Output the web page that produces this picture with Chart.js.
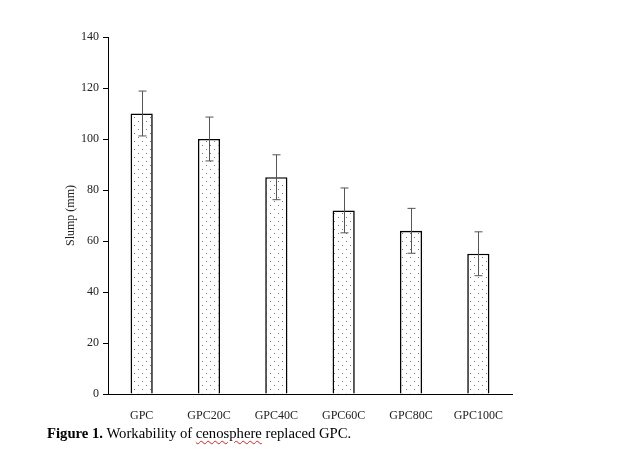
<!DOCTYPE html>
<html>
<head>
<meta charset="utf-8">
<script src="https://cdn.jsdelivr.net/npm/chart.js@4"></script>
<style>
  html, body { margin: 0; padding: 0; background: #fff; }
  #wrap { position: relative; width: 626px; height: 449px; }
  #chart { position: absolute; left: 0; top: 0; }
  #caption {
    position: absolute; left: 47px; top: 425px;
    font-family: "Liberation Serif", "Times New Roman", serif;
    font-size: 14.7px; color: #000; white-space: nowrap;
  }
  .sp { text-decoration: underline wavy #d22; text-decoration-thickness: 1px; text-underline-offset: 2px; }
</style>
</head>
<body>
<div id="wrap">
  <canvas id="chart" width="626" height="449"></canvas>
  <div id="caption"><b>Figure 1.</b> Workability of <span class="sp">cenosphere</span> replaced GPC.</div>
</div>
<script>
// Data
var mixes = ['GPC', 'GPC20C', 'GPC40C', 'GPC60C', 'GPC80C', 'GPC100C'];
var slump = [110, 100, 85, 72, 64, 55];
var slumpErr = [8.8, 8.6, 8.8, 8.8, 8.8, 8.6];

// Dotted fill pattern for the bars
function dotPattern() {
    var c = document.createElement('canvas');
    c.width = 8; c.height = 8;
    var g = c.getContext('2d');
    g.fillStyle = '#fff';
    g.fillRect(0, 0, 8, 8);
    g.fillStyle = '#777';
    g.fillRect(2, 1, 1, 1);
    g.fillRect(6, 5, 1, 1);
    return g.createPattern(c, 'repeat');
}

// Draw error bars from the y scale
var errorBars = {
    id: 'errorBars',
    afterDatasetsDraw: function(chart) {
        var ctx = chart.ctx;
        var y = chart.scales.y;
        var meta = chart.getDatasetMeta(0);
        ctx.save();
        ctx.strokeStyle = '#555';
        ctx.lineWidth = 1;
        meta.data.forEach(function(bar, i) {
            var x = Math.round(bar.x) + 0.5;
            var top = y.getPixelForValue(slump[i] + slumpErr[i]);
            var bot = y.getPixelForValue(slump[i] - slumpErr[i]);
            ctx.beginPath();
            ctx.moveTo(x, top); ctx.lineTo(x, bot);
            ctx.moveTo(x - 4, top); ctx.lineTo(x + 4, top);
            ctx.moveTo(x - 4, bot); ctx.lineTo(x + 4, bot);
            ctx.stroke();
        });
        ctx.restore();
    }
};

var serif = '"Liberation Serif", "Times New Roman", serif';

var myChart = new Chart(document.getElementById('chart').getContext('2d'), {
    type: 'bar',
    data: {
        labels: mixes,
        datasets: [{
            data: slump,
            backgroundColor: dotPattern(),
            borderColor: '#000',
            borderWidth: 1.6,
            categoryPercentage: 1,
            barPercentage: 0.33
        }]
    },
    options: {
        responsive: false,
        animation: false,
        layout: { padding: { left: 64, right: 114, top: 37, bottom: 0 } },
        plugins: { legend: { display: false }, tooltip: { enabled: false } },
        scales: {
            x: {
                grid: { display: false },
                border: { display: true, color: '#000', width: 1 },
                ticks: { color: '#222', font: { family: serif, size: 12 }, padding: 7 },
                afterFit: function(s) { s.height = 55; }
            },
            y: {
                min: 0, max: 140,
                grid: { drawOnChartArea: false, drawTicks: true, tickLength: 5, color: '#000' },
                border: { display: true, color: '#000', width: 1 },
                ticks: { stepSize: 20, color: '#222', font: { family: serif, size: 12 }, padding: 4 },
                title: { display: true, text: 'Slump (mm)', color: '#222', font: { family: serif, size: 12 }, padding: 0 },
                afterFit: function(s) { s.width = 44; }
            }
        }
    },
    plugins: [errorBars]
});
</script>
</body>
</html>
